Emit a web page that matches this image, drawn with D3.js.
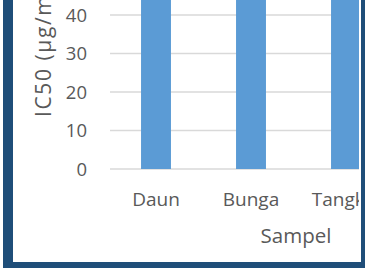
<!DOCTYPE html>
<html>
<head>
<meta charset="utf-8">
<script src="https://cdn.jsdelivr.net/npm/d3@7"></script>
<style>
  html, body { margin: 0; padding: 0; background: #fff; }
  svg { display: block; font-family: "Open Sans", sans-serif; }
</style>
</head>
<body>
<div id="chart"></div>
<script>
// Chart data (bars run past the top of the cropped picture)
const categories = ['Daun', 'Bunga', 'Tangkai'];
const ic50Values = [55, 55, 55];
const yTicks = [0, 10, 20, 30, 40, 50, 60];

const width = 365;
const height = 268;

const svg = d3.select('#chart')
  .append('svg')
  .attr('width', width)
  .attr('height', height);

svg.append('rect')
  .attr('width', width)
  .attr('height', height)
  .attr('fill', '#fff');

// clip the chart content inside the frame
svg.append('clipPath')
  .attr('id', 'inner')
  .append('rect')
  .attr('x', 13)
  .attr('y', -200)
  .attr('width', 346)
  .attr('height', 462);

const g = svg.append('g').attr('clip-path', 'url(#inner)');

const x = d3.scaleBand()
  .domain(categories)
  .range([108.5, 393.5])
  .paddingInner(0.685)
  .paddingOuter(0.3425);

const y = d3.scaleLinear()
  .domain([0, 60])
  .range([169, -62]);

// gridlines
g.selectAll('line.grid')
  .data(yTicks)
  .enter()
  .append('line')
  .attr('class', 'grid')
  .attr('x1', 110)
  .attr('x2', 500)
  .attr('y1', d => y(d))
  .attr('y2', d => y(d))
  .attr('stroke', '#d9d9d9')
  .attr('stroke-width', 1.3);

// bars
g.selectAll('rect.bar')
  .data(categories)
  .enter()
  .append('rect')
  .attr('class', 'bar')
  .attr('x', d => x(d))
  .attr('width', x.bandwidth())
  .attr('y', (d, i) => y(ic50Values[i]))
  .attr('height', (d, i) => y(0) - y(ic50Values[i]))
  .attr('fill', '#5b9bd5');

// y tick labels
g.selectAll('text.ytick')
  .data(yTicks)
  .enter()
  .append('text')
  .attr('class', 'ytick')
  .attr('x', 87)
  .attr('y', d => y(d))
  .attr('dy', '0.36em')
  .attr('text-anchor', 'end')
  .attr('font-size', 18.5)
  .attr('fill', '#595959')
  .text(d => d);

// category labels
g.selectAll('text.xtick')
  .data(categories)
  .enter()
  .append('text')
  .attr('class', 'xtick')
  .attr('x', d => x(d) + x.bandwidth() / 2)
  .attr('y', 206)
  .attr('text-anchor', 'middle')
  .attr('font-size', 19)
  .attr('fill', '#595959')
  .text(d => d);

// axis titles
g.append('text')
  .attr('transform', 'translate(51,117) rotate(-90)')
  .attr('text-anchor', 'start')
  .attr('font-size', 21)
  .attr('letter-spacing', 1.6)
  .attr('fill', '#595959')
  .text('IC50 (µg/mL)');

g.append('text')
  .attr('x', 296)
  .attr('y', 243)
  .attr('text-anchor', 'middle')
  .attr('font-size', 20.5)
  .attr('fill', '#595959')
  .text('Sampel');

// dark frame
svg.append('rect')
  .attr('x', 8)
  .attr('y', -100)
  .attr('width', 358)
  .attr('height', 367)
  .attr('fill', 'none')
  .attr('stroke', '#1f4e79')
  .attr('stroke-width', 10);
</script>
</body>
</html>
